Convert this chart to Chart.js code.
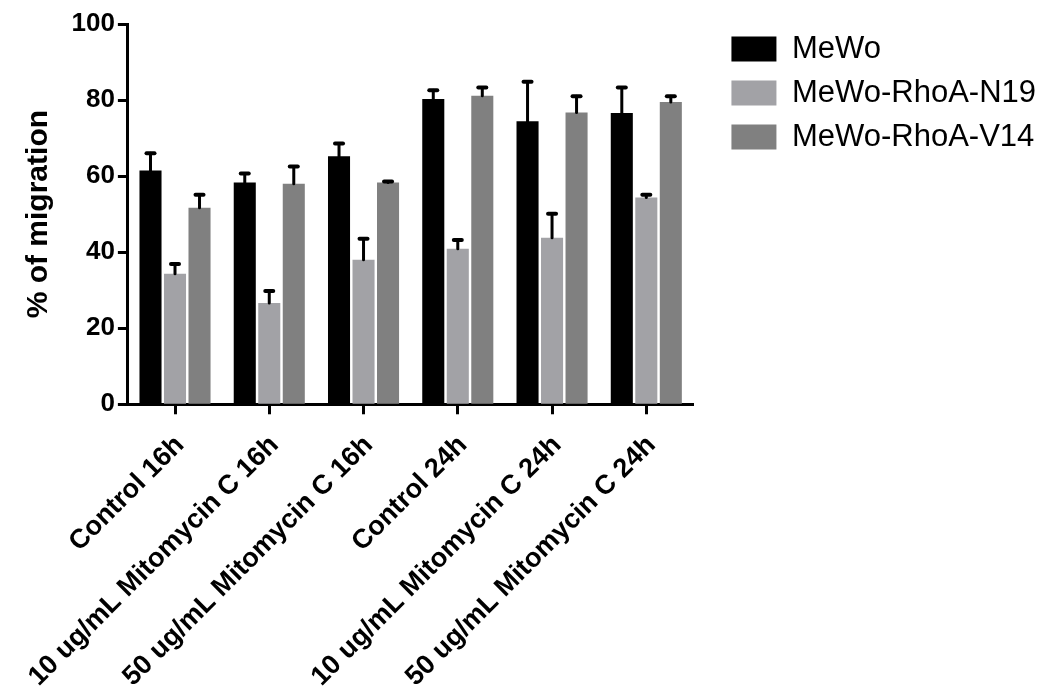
<!DOCTYPE html>
<html>
<head>
    <meta charset="utf-8" />
    <title>% of migration</title>
    <script src="https://cdn.jsdelivr.net/npm/chart.js/dist/chart.umd.js"></script>
    <style>
        body { margin: 0; background: #ffffff; }
        #wrap { width: 1046px; height: 697px; position: relative; }
    </style>
</head>
<body>
    <div id="wrap"><canvas id="myChart"></canvas></div>
    <script>
        // categories and series
        const categories = [
            'Control 16h',
            '10 ug/mL Mitomycin C 16h',
            '50 ug/mL Mitomycin C 16h',
            'Control 24h',
            '10 ug/mL Mitomycin C 24h',
            '50 ug/mL Mitomycin C 24h'
        ];
        const seriesNames = ['MeWo', 'MeWo-RhoA-N19', 'MeWo-RhoA-V14'];
        const mewo = [61.5, 58.3, 65.2, 80.3, 74.4, 76.6];
        const mewoErr = [4.5, 2.4, 3.4, 2.3, 10.4, 6.7];
        const n19 = [34.3, 26.6, 38.0, 40.9, 43.8, 54.4];
        const n19Err = [2.6, 3.2, 5.5, 2.3, 6.3, 0.7];
        const v14 = [51.7, 58.0, 58.3, 81.1, 76.7, 79.5];
        const v14Err = [3.4, 4.5, 0.3, 2.2, 4.3, 1.5];
        const yTicks = [0, 20, 40, 60, 80, 100];

        const FONT = "'Liberation Sans', Arial, sans-serif";

        // upper-only error bars, drawn through the y scale
        const errorBars = {
            id: 'errorBars',
            afterDatasetsDraw(chart) {
                const ctx = chart.ctx;
                const yScale = chart.scales.y;
                chart.data.datasets.forEach((ds, i) => {
                    const meta = chart.getDatasetMeta(i);
                    meta.data.forEach((bar, j) => {
                        const top = yScale.getPixelForValue(ds.data[j] + ds.errUp[j]);
                        ctx.save();
                        ctx.strokeStyle = '#000';
                        ctx.lineCap = 'round';
                        ctx.lineWidth = 3;
                        ctx.beginPath();
                        ctx.moveTo(bar.x, bar.y);
                        ctx.lineTo(bar.x, top);
                        ctx.stroke();
                        ctx.lineWidth = 4;
                        ctx.beginPath();
                        ctx.moveTo(bar.x - 4, top);
                        ctx.lineTo(bar.x + 4, top);
                        ctx.stroke();
                        ctx.restore();
                    });
                });
            }
        };

        const config = {
            type: 'bar',
            data: {
                labels: categories,
                datasets: [
                    { label: seriesNames[0], data: mewo, errUp: mewoErr, backgroundColor: '#000000' },
                    { label: seriesNames[1], data: n19, errUp: n19Err, backgroundColor: '#a2a2a6' },
                    { label: seriesNames[2], data: v14, errUp: v14Err, backgroundColor: '#808080' }
                ]
            },
            options: {
                responsive: true,
                maintainAspectRatio: false,
                animation: false,
                categoryPercentage: 0.78,
                barPercentage: 0.9,
                // bottom is negative: the rotated labels are measured a bit too tall
                layout: { padding: { top: 20.5, left: 10, right: 0, bottom: -11 } },
                plugins: {
                    tooltip: { enabled: false },
                    legend: {
                        position: 'right',
                        align: 'start',
                        maxWidth: 340,
                        labels: {
                            boxWidth: 45,
                            boxHeight: 25,
                            padding: 13,
                            color: '#000',
                            font: { family: FONT, size: 31 }
                        }
                    }
                },
                scales: {
                    x: {
                        offset: true,
                        grid: {
                            display: true, drawOnChartArea: false, offset: false,
                            tickLength: 10, tickWidth: 3, tickColor: '#000'
                        },
                        border: { display: true, color: '#000', width: 3 },
                        ticks: {
                            autoSkip: false, minRotation: 45, maxRotation: 45, padding: 15,
                            labelOffset: 5,
                            color: '#000', font: { family: FONT, size: 27, weight: 'bold' }
                        }
                    },
                    y: {
                        min: 0, max: 100,
                        afterBuildTicks(s) { s.ticks = yTicks.map(v => ({ value: v })); },
                        grid: {
                            display: true, drawOnChartArea: false,
                            tickLength: 10, tickWidth: 3, tickColor: '#000'
                        },
                        border: { display: true, color: '#000', width: 3 },
                        ticks: {
                            padding: 3, color: '#000',
                            font: { family: FONT, size: 26, weight: 'bold', lineHeight: '42px' }
                        },
                        title: {
                            display: true, text: '% of migration', color: '#000',
                            font: { family: FONT, size: 30, weight: 'bold' },
                            padding: { top: 10.5, bottom: 12 }
                        }
                    },
                    gap: {
                        type: 'linear', position: 'right', display: true,
                        grid: { display: false }, border: { display: false },
                        ticks: { display: false },
                        afterFit(s) { s.width = 25; }
                    }
                }
            },
            plugins: [errorBars]
        };

        new Chart(document.getElementById('myChart'), config);
    </script>
</body>
</html>
